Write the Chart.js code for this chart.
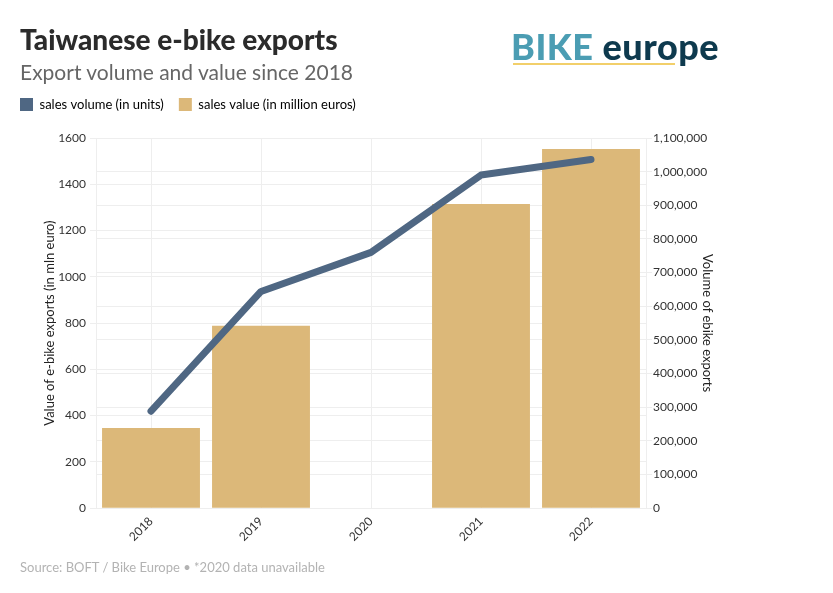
<!DOCTYPE html>
<html>
<head>
<meta charset="utf-8">
<script src="https://cdn.jsdelivr.net/npm/chart.js@4/dist/chart.umd.min.js"></script>
<style>
  body { margin: 0; background: #fff; font-family: Lato, "Noto Sans", sans-serif; }
  #wrap { position: relative; width: 833px; height: 593px; overflow: hidden; }
  #chart { position: absolute; left: 0; top: 0; }
  .title { position: absolute; left: 20px; top: 22px; font-size: 28px; font-weight: 900; color: #2b2b2b; }
  .subtitle { position: absolute; left: 20px; top: 59px; font-size: 21px; color: #666; }
  .logo { position: absolute; left: 511px; top: 24px; font-size: 36px; font-weight: 900; letter-spacing: 0.5px; white-space: nowrap; }
  .logo .b { color: #4b9db3; }
  .logo .e { color: #0e3a4e; }
  .logo .line { position: absolute; left: 2px; top: 39px; width: 162px; height: 2px; background: #f2cf6a; }
  .footer { position: absolute; left: 20px; top: 559px; font-size: 13px; color: #b3b3b3; }
</style>
</head>
<body>
<div id="wrap">
  <canvas id="chart" width="833" height="593"></canvas>
  <div class="title">Taiwanese e-bike exports</div>
  <div class="subtitle">Export volume and value since 2018</div>
  <div class="logo"><span class="b">BIKE</span> <span class="e">europe</span><div class="line"></div></div>
  <div class="footer">Source: BOFT / Bike Europe • *2020 data unavailable</div>
</div>
<script>
const years = ["2018", "2019", "2020", "2021", "2022"];
const salesValue = [346, 788, null, 1315, 1552];          // million euros
const salesVolume = [288000, 644000, 760000, 990000, 1036000]; // units

const lineColor = "#4f6783";
const barColor = "#dcb879";

// extra space between legend and plot
const legendGap = {
  id: "legendGap",
  beforeInit(chart) {
    const fit = chart.legend.fit;
    chart.legend.fit = function () {
      fit.bind(chart.legend)();
      this.height += 17;
    };
  }
};

const config = {
  type: "bar",
  data: {
    labels: years,
    datasets: [
      {
        type: "line",
        label: "sales volume (in units)",
        data: salesVolume,
        yAxisID: "yVol",
        borderColor: lineColor,
        backgroundColor: lineColor,
        borderWidth: 7,
        borderCapStyle: "round",
        borderJoinStyle: "round",
        pointRadius: 0,
        tension: 0,
        order: 0
      },
      {
        label: "sales value (in million euros)",
        data: salesValue,
        yAxisID: "yVal",
        backgroundColor: barColor,
        categoryPercentage: 0.89,
        barPercentage: 1,
        order: 1
      }
    ]
  },
  options: {
    responsive: false,
    animation: false,
    layout: { padding: { left: 5, right: 116, top: 83, bottom: 43 } },
    plugins: {
      legend: {
        position: "top",
        align: "start",
        labels: {
          boxWidth: 13,
          boxHeight: 13,
          padding: 15,
          color: "#333",
          font: { family: "Lato", size: 13 },
          generateLabels(chart) {
            return chart.data.datasets.map((ds, i) => ({
              text: ds.label,
              fillStyle: ds.type === "line" ? lineColor : barColor,
              strokeStyle: ds.type === "line" ? lineColor : barColor,
              lineWidth: 0,
              datasetIndex: i
            }));
          }
        }
      },
      tooltip: { enabled: false }
    },
    scales: {
      x: {
        grid: { offset: false, color: "#eeeeee", drawTicks: false },
        border: { color: "#eeeeee" },
        ticks: {
          color: "#333",
          font: { family: "Lato", size: 12 },
          minRotation: 45,
          maxRotation: 45,
          padding: 6
        }
      },
      yVal: {
        position: "left",
        min: 0,
        max: 1600,
        afterFit(scale) { scale.width = 91; },
        ticks: {
          stepSize: 200,
          color: "#333",
          font: { family: "Lato", size: 12 },
          padding: 4,
          callback: v => String(v)
        },
        grid: { color: "#eeeeee", tickLength: 6 },
        border: { color: "#eeeeee" },
        title: {
          display: true,
          text: "Value of e-bike exports (in mln euro)",
          color: "#222",
          font: { family: "Lato", size: 13 },
          padding: { top: 37, bottom: 0 }
        }
      },
      yVol: {
        position: "right",
        min: 0,
        max: 1100000,
        afterFit(scale) { scale.width = 71; },
        ticks: {
          stepSize: 100000,
          color: "#333",
          font: { family: "Lato", size: 12 },
          padding: 1,
          callback: v => v.toLocaleString("en-US")
        },
        grid: { color: "#eeeeee", tickLength: 6 },
        border: { color: "#eeeeee" },
        title: {
          display: true,
          text: "Volume of ebike exports",
          color: "#222",
          font: { family: "Lato", size: 13 },
          padding: { top: 2, bottom: 0 }
        }
      }
    }
  },
  plugins: [legendGap]
};

const myChart = new Chart(document.getElementById("chart"), config);
</script>
</body>
</html>
